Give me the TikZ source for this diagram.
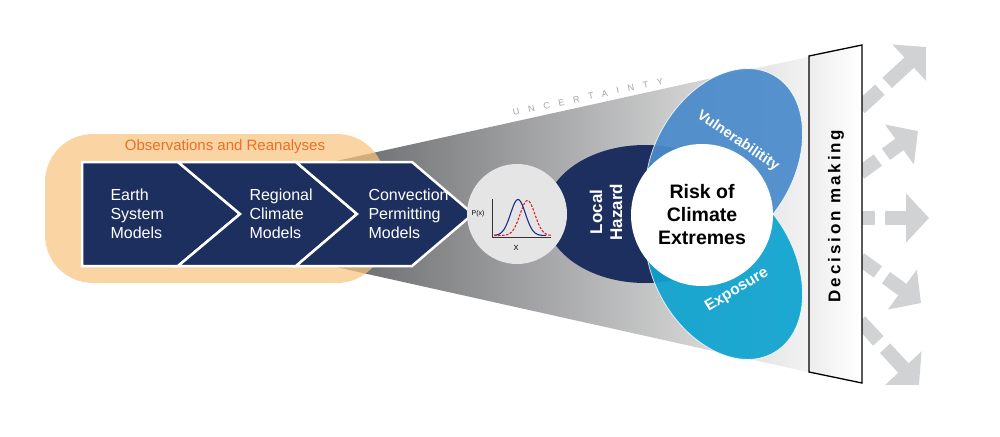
\documentclass[tikz,border=0pt]{standalone}
\usepackage{fontspec}
\setmainfont{Liberation Sans}
\newfontfamily\spacedA[LetterSpace=100]{Liberation Sans}
\newfontfamily\spacedB[LetterSpace=17]{Liberation Sans}
\usetikzlibrary{arrows.meta,shapes.geometric}
\definecolor{navy}{HTML}{1D2F5F}
\definecolor{vblue}{HTML}{4A8BCB}
\definecolor{eblue}{HTML}{0EA3D0}
\definecolor{orfill}{HTML}{F9C37F}
\definecolor{ortext}{HTML}{E8702A}
\definecolor{conedark}{HTML}{5E5F62}
\definecolor{conelight}{HTML}{F4F4F4}
\definecolor{arrowgray}{HTML}{D1D2D4}
\definecolor{pdfgray}{HTML}{E5E5E6}
\definecolor{uncgray}{HTML}{A3A4A7}
\definecolor{curveblue}{HTML}{1E2A8C}
\definecolor{curvered}{HTML}{E0202A}
\tikzset{
  chevron/.style={fill=navy, draw=white, line width=2.5pt, line join=miter},
  chevtext/.style={text=white, align=left, anchor=west, font=\fontsize{16}{19}\selectfont},
  outarrow/.style={draw=arrowgray, line width=14pt, -{Triangle[length=23pt,width=48pt]}},
  petal/.style={fill opacity=0.93, draw=white, draw opacity=0.8, line width=0.8pt},
}
\begin{document}
\begin{tikzpicture}[x=1pt,y=-1pt]
\useasboundingbox (0,0) rectangle (1000,436);
% uncertainty cone
\path[left color=conedark, right color=conelight] (300,169) -- (812,56) -- (812,373) -- (300,259) -- cycle;
\node[rotate=12, text=uncgray, font=\spacedA\fontsize{9}{10}\selectfont] (unc) at (588,97) {UNCERTAINTY};
% observations box
\path[fill=orfill, fill opacity=0.72, rounded corners=48pt] (45,134) rectangle (385,283);
\node[text=ortext, font=\fontsize{15}{17}\selectfont] (obs) at (225,147) {Observations and Reanalyses};
% chevrons
\path[chevron] (82,162) -- (178,162) -- (240,214) -- (178,266) -- (82,266) -- cycle;
\path[chevron] (178,162) -- (296,162) -- (357,214) -- (296,266) -- (178,266) -- (240,214) -- cycle;
\path[chevron] (296,162) -- (412,162) -- (473,214) -- (412,266) -- (296,266) -- (357,214) -- cycle;
\node[chevtext] (esm) at (107,214) {Earth\\System\\Models};
\node[chevtext] (rcm) at (246,214) {Regional\\Climate\\Models};
\node[chevtext] (cpm) at (365,214) {Convection\\Permitting\\Models};
% local hazard
\path[fill=navy] (645,214) ellipse [x radius=100, y radius=69];
% vulnerability and exposure
\path[petal, fill=vblue, rotate around={60:(724,162)}] (724,162) ellipse [x radius=100, y radius=70];
\path[petal, fill=eblue, rotate around={-60:(724,266)}] (724,266) ellipse [x radius=100, y radius=70];
% risk circle
\node[circle, fill=white, minimum size=142pt, inner sep=0pt, align=center, font=\fontsize{19.5}{23}\selectfont\bfseries] (risk) at (702,215) {Risk of\\Climate\\Extremes};
% pdf circle
\node[circle, fill=pdfgray, minimum size=100pt, inner sep=0pt] (pdf) at (517,214) {};
\draw[black!80, line width=0.8pt] (492,199) -- (492,237) -- (551,237);
\draw[curveblue, line width=1.1pt] plot[domain=494:546, samples=60, smooth] (\x,{235.5-36*exp(-((\x-518)/10.5)^2)});
\draw[curvered, line width=1.1pt, dash pattern=on 2.5pt off 1.5pt] plot[domain=494:551, samples=60, smooth] (\x,{235.5-35*exp(-((\x-527.5)/10.5)^2)});
\node[font=\fontsize{7}{8}\selectfont] (px) at (478,214) {P(x)};
\node[font=\fontsize{7.5}{8}\selectfont] (xl) at (516,248) {X};
% labels
\node[rotate=90, text=white, align=center, font=\fontsize{17}{20}\selectfont\bfseries] (haz) at (606,212) {Local\\Hazard};
\node[rotate=-34, text=white, inner sep=0pt, font=\fontsize{14.5}{16}\selectfont\bfseries] (vul) at (738,141) {Vulnerabilitity};
\node[rotate=31, text=white, inner sep=0pt, font=\fontsize{15.5}{17}\selectfont\bfseries] (exp) at (737,290) {Exposure};
% arrows
\coordinate (a1s) at (860,108); \coordinate (a1e) at (926,47);
\coordinate (a2s) at (860,173); \coordinate (a2e) at (918,131);
\coordinate (a3s) at (860,218); \coordinate (a3e) at (929,218);
\coordinate (a4s) at (860,259); \coordinate (a4e) at (921,303);
\coordinate (a5s) at (860,321); \coordinate (a5e) at (919,385);
\draw[outarrow, dash pattern=on 27pt off 10pt on 80pt] (a1s) -- (a1e);
\draw[outarrow, dash pattern=on 22pt off 10pt on 80pt] (a2s) -- (a2e);
\draw[outarrow, dash pattern=on 15pt off 10pt on 80pt] (a3s) -- (a3e);
\draw[outarrow, dash pattern=on 22pt off 10pt on 80pt] (a4s) -- (a4e);
\draw[outarrow, dash pattern=on 27pt off 10pt on 80pt] (a5s) -- (a5e);
% decision making box
\path[left color=black!7, right color=white, draw=black, line width=1.3pt] (809,56) -- (862,45) -- (862,383) -- (809,372) -- cycle;
\node[rotate=90, font=\spacedB\fontsize{17}{20}\selectfont\bfseries] (dec) at (836,216) {Decision making};
\end{tikzpicture}
\end{document}
